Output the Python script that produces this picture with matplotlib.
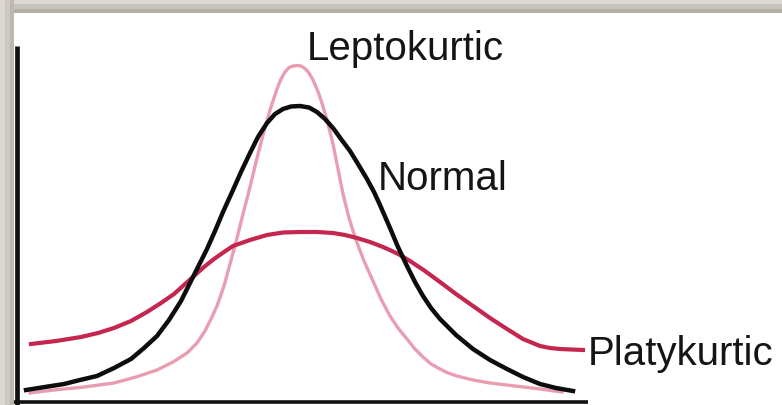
import matplotlib.pyplot as plt
from matplotlib.patches import Rectangle

# curve heights above the baseline (pixel units)
normal_x = [26, 45, 64, 80, 97, 114, 131, 144, 157, 169, 181, 189, 197, 207, 215,
            223, 233, 241, 250, 258, 267, 275, 283, 291, 300, 309, 317, 325, 333,
            341, 350, 358, 367, 374, 380, 390, 398, 407, 415, 423, 431, 440, 456,
            473, 490, 507, 523, 540, 556, 573]
normal_y = [12, 15, 18, 22, 26, 34, 43, 54, 66, 82, 101, 117, 133, 153, 171,
            190, 212, 230, 249, 265, 279, 288, 293, 295.5, 296, 294.5, 290, 283, 274,
            263, 251, 238, 223, 210, 197, 174, 155, 136, 120, 106, 94, 83, 67,
            53, 42, 33, 25, 18, 14, 11]

platy_x = [31, 56, 81, 98, 114, 131, 147, 161, 174, 184, 194, 204, 214, 224, 233,
           250, 267, 283, 300, 317, 333, 345, 357, 370, 383, 392, 400, 410, 425,
           440, 456, 473, 490, 507, 523, 540, 550, 560, 583]
platy_y = [58, 61, 65, 69, 74, 81, 90, 99, 108, 117, 126, 135, 143, 150, 156,
           162, 167, 169.5, 170, 170, 169, 167, 164, 160, 155, 151, 147, 141, 131,
           120, 108, 96, 84, 73, 63, 56, 54, 53, 52]

lepto_x = [30, 54, 84, 114, 136, 157, 173, 187, 197, 205, 211, 217, 224, 230, 237,
           243, 250, 256, 263, 270, 277, 281, 285, 289, 293, 297, 301, 305, 309,
           313, 317, 321, 327, 333, 338, 343, 349, 356, 364, 373, 381, 390, 398,
           407, 415, 423, 431, 440, 448, 457, 473, 490, 515, 540, 562]
lepto_y = [9, 12, 15, 19, 25, 32, 40, 49, 59, 71, 83, 96, 116, 138, 164,
           188, 215, 240, 267, 292, 313, 323, 330, 334.5, 336, 336.5, 336, 333.5, 329,
           322, 313, 302, 282, 258, 233, 208, 184, 162, 141, 121, 103, 86, 74,
           63, 53, 45, 38, 33, 29, 26, 22, 19, 16, 13, 10]

labels = ['Leptokurtic', 'Normal', 'Platykurtic']

W, H = 782, 406
fig = plt.figure(figsize=(W / 100, H / 100), dpi=100)
ax = fig.add_axes([0, 0, 1, 1])
ax.set_xlim(0, W)
ax.set_ylim(-3, 403)
ax.axis('off')

# picture frame shading (top and left)
for y0, c in [(389, '#b4aea7'), (393, '#c8c3bd'), (398, '#dcd8d2')]:
    ax.add_patch(Rectangle((0, y0), W, 403 - y0 + 3, color=c, lw=0, zorder=1))
for x0, w, c in [(0, 5, '#dcd8d2'), (5, 5, '#cdc8c2'), (10, 4, '#bdb7b0')]:
    ax.add_patch(Rectangle((x0, -3), w, 406, color=c, lw=0, zorder=1))

# axes lines
ax.plot([16.5, 16.5], [-3, 356], color='#111111', lw=3.4, solid_capstyle='butt', zorder=2)
ax.plot([14, 588], [0.5, 0.5], color='#111111', lw=2.6, solid_capstyle='butt', zorder=2)

ax.plot(lepto_x, lepto_y, color='#e99db1', lw=2.4, solid_joinstyle='round', zorder=3)
ax.plot(platy_x, platy_y, color='#c4264f', lw=3.0, solid_joinstyle='round', zorder=4)
ax.plot(normal_x, normal_y, color='#0d0d0d', lw=3.2, solid_joinstyle='round', zorder=5)

font = dict(family='Liberation Sans', fontsize=29, color='#151515', va='baseline', zorder=6)
ax.text(405, 403 - 60, labels[0], ha='center', **font)
ax.text(378, 403 - 190, labels[1], ha='left', **font)
ax.text(588, 403 - 365, labels[2], ha='left', **font)

fig.savefig('out.png', dpi=100)
